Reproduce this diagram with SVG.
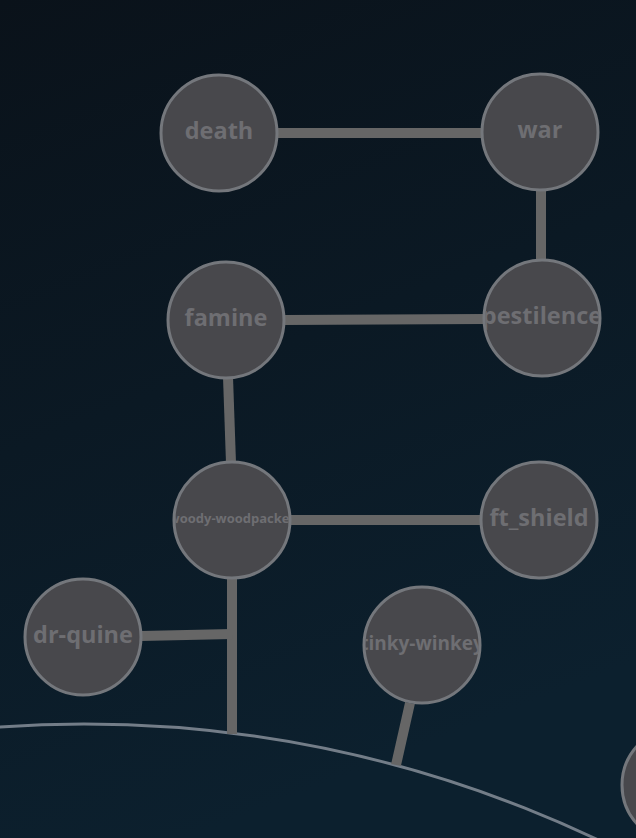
<svg xmlns="http://www.w3.org/2000/svg" width="636" height="838" viewBox="0 0 636 838">
<defs>
<linearGradient id="bg" x1="0" y1="0" x2="0.3" y2="1">
<stop offset="0" stop-color="#0a121a"/>
<stop offset="1" stop-color="#0c202e"/>
</linearGradient>
<clipPath id="c-death"><circle cx="219" cy="133" r="57"/></clipPath>
<clipPath id="c-war"><circle cx="540" cy="132" r="57"/></clipPath>
<clipPath id="c-famine"><circle cx="226" cy="320" r="57"/></clipPath>
<clipPath id="c-pest"><circle cx="542" cy="318" r="57"/></clipPath>
<clipPath id="c-woody"><circle cx="232" cy="520" r="57"/></clipPath>
<clipPath id="c-ft"><circle cx="539" cy="520" r="57"/></clipPath>
<clipPath id="c-dr"><circle cx="83" cy="637" r="57"/></clipPath>
<clipPath id="c-tinky"><circle cx="422" cy="645" r="57"/></clipPath>
</defs>
<style>
.node{fill:#48484c;stroke:#74777c;stroke-width:3}
.lbl{font-family:"Open Sans","DejaVu Sans",sans-serif;font-weight:bold;fill:#6e6e72;text-anchor:middle;dominant-baseline:central}
.edge{stroke:#666666;stroke-width:10;fill:none}
.planet{fill:none;stroke:#737d88;stroke-width:3}
</style>
<rect width="636" height="838" fill="url(#bg)"/>
<g id="planet"><circle class="planet" cx="84" cy="1922" r="1198"/></g>
<g id="connectors">
<line class="edge" x1="277" y1="133" x2="482" y2="133"/>
<line class="edge" x1="541" y1="189" x2="541" y2="261"/>
<line class="edge" x1="284" y1="320" x2="484" y2="319"/>
<line class="edge" x1="228" y1="377" x2="231" y2="463"/>
<line class="edge" x1="290" y1="520" x2="481" y2="520"/>
<line class="edge" x1="232" y1="577" x2="232" y2="734"/>
<polyline class="edge" points="141,636 232,634"/>
<line class="edge" x1="410" y1="703" x2="396" y2="765"/>
</g>
<g id="death"><circle class="node" cx="219" cy="133" r="58"/><text class="lbl" x="219" y="130" font-size="23.5" clip-path="url(#c-death)">death</text></g>
<g id="war"><circle class="node" cx="540" cy="132" r="58"/><text class="lbl" x="540" y="129" font-size="23.5" clip-path="url(#c-war)">war</text></g>
<g id="famine"><circle class="node" cx="226" cy="320" r="58"/><text class="lbl" x="226" y="317" font-size="23.5" clip-path="url(#c-famine)">famine</text></g>
<g id="pestilence"><circle class="node" cx="542" cy="318" r="58"/><text class="lbl" x="542" y="315" font-size="23.5" clip-path="url(#c-pest)">pestilence</text></g>
<g id="woody-woodpacker"><circle class="node" cx="232" cy="520" r="58"/><text class="lbl" x="232" y="518" font-size="13" clip-path="url(#c-woody)">woody-woodpacker</text></g>
<g id="ft_shield"><circle class="node" cx="539" cy="520" r="58"/><text class="lbl" x="539" y="517" font-size="23.5" clip-path="url(#c-ft)">ft_shield</text></g>
<g id="dr-quine"><circle class="node" cx="83" cy="637" r="58"/><text class="lbl" x="83" y="634" font-size="23.5" clip-path="url(#c-dr)">dr-quine</text></g>
<g id="tinky-winkey"><circle class="node" cx="422" cy="645" r="58"/><text class="lbl" x="422" y="643" font-size="19" clip-path="url(#c-tinky)">tinky-winkey</text></g>
<g id="offscreen"><circle class="node" cx="680" cy="785" r="58"/></g>
</svg>
